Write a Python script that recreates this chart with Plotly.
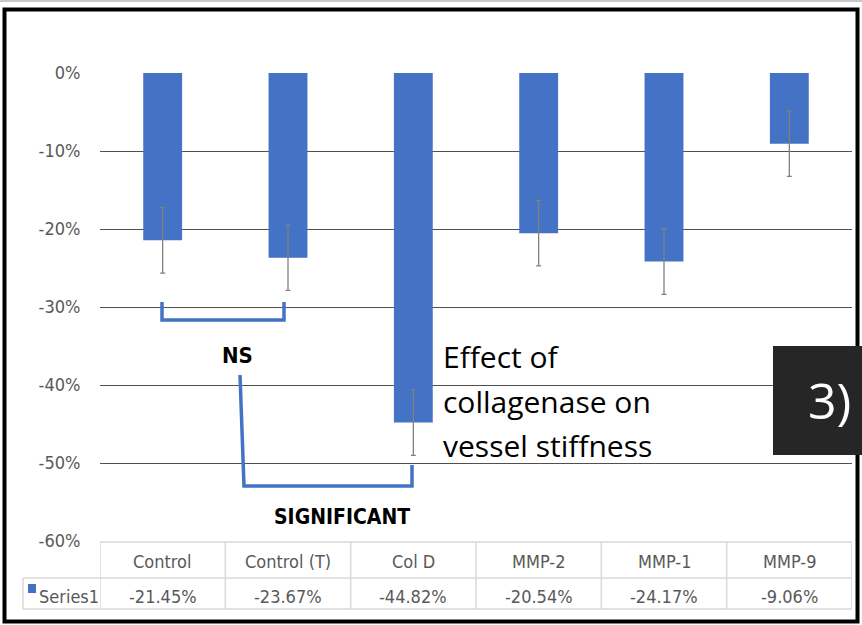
import plotly.graph_objects as go

categories = ["Control", "Control (T)", "Col D", "MMP-2", "MMP-1", "MMP-9"]
values = [-21.45, -23.67, -44.82, -20.54, -24.17, -9.06]
errors = [4.2, 4.2, 4.2, 4.2, 4.2, 4.2]
value_labels = ["-21.45%", "-23.67%", "-44.82%", "-20.54%", "-24.17%", "-9.06%"]
series_name = "Series1"
y_ticks = [0, -10, -20, -30, -40, -50, -60]
y_tick_labels = ["0%", "-10%", "-20%", "-30%", "-40%", "-50%", "-60%"]

W, H = 862, 625
L, R, T, B = 100, 852, 73, 541

def px(x):
    return (x - L) / (R - L)

def py(y):
    return (B - y) / (B - T)

BLUE = "#4472C4"
GRAY_TXT = "#595959"
TBL = "#d9d9d9"
NARROW = "Liberation Sans Narrow, Arial Narrow, DejaVu Sans Condensed, sans-serif"
TEXTF = "Open Sans, Calibri, Lato, sans-serif"

fig = go.Figure()
fig.add_trace(go.Bar(
    x=list(range(len(categories))), y=values, width=0.31,
    marker=dict(color=BLUE, line=dict(width=0)),
    error_y=dict(type="data", array=errors, visible=True,
                 color="#808080", thickness=1.3, width=2.5),
    name=series_name, showlegend=False, hoverinfo="skip",
))

shapes = []
ann = []

def label(x, y, text, size, color, family, xanchor="center", xref="paper"):
    ann.append(dict(x=x, xref=xref, y=py(y), yref="paper", text=text,
                    xanchor=xanchor, yanchor="middle", showarrow=False,
                    font=dict(family=family, size=size, color=color)))

# outer border
shapes.append(dict(type="line", xref="paper", yref="paper",
                   x0=px(0), x1=px(W), y0=py(1), y1=py(1),
                   line=dict(color="#c8c8c8", width=2)))
shapes.append(dict(type="rect", xref="paper", yref="paper",
                   x0=px(4.5), x1=px(857.5), y0=py(9.5), y1=py(621.5),
                   line=dict(color="black", width=4), fillcolor="rgba(0,0,0,0)"))

# table lines
n = len(categories)
shapes.append(dict(type="line", xref="paper", yref="paper",
                   x0=px(L), x1=px(R), y0=py(542), y1=py(542),
                   line=dict(color=TBL, width=1.5)))
for yy in (578, 609):
    shapes.append(dict(type="line", xref="paper", yref="paper",
                       x0=px(23), x1=px(R), y0=py(yy), y1=py(yy),
                       line=dict(color=TBL, width=1.5)))
shapes.append(dict(type="line", xref="paper", yref="paper",
                   x0=px(23), x1=px(23), y0=py(578), y1=py(609),
                   line=dict(color=TBL, width=1.5)))
for i in range(n + 1):
    shapes.append(dict(type="line", xref="x", yref="paper",
                       x0=i - 0.5, x1=i - 0.5, y0=py(542), y1=py(609),
                       line=dict(color=TBL, width=1.5)))

for i, (c, v) in enumerate(zip(categories, value_labels)):
    label(i, 561, c, 18, GRAY_TXT, NARROW, xref="x")
    label(i, 596, v, 18, GRAY_TXT, NARROW, xref="x")

# legend key
shapes.append(dict(type="rect", xref="paper", yref="paper",
                   x0=px(28), x1=px(36), y0=py(584), y1=py(593),
                   fillcolor=BLUE, line=dict(width=0)))
label(px(37), 596, series_name, 18, GRAY_TXT, NARROW, xanchor="left")

# brackets
shapes.append(dict(type="path", xref="paper", yref="paper",
                   path=f"M {px(162)} {py(302)} L {px(162)} {py(320)} L {px(284)} {py(320)} L {px(284)} {py(302)}",
                   line=dict(color=BLUE, width=3.5)))
shapes.append(dict(type="path", xref="paper", yref="paper",
                   path=f"M {px(240)} {py(375)} L {px(244)} {py(486)} L {px(412)} {py(486)} L {px(412)} {py(465)}",
                   line=dict(color=BLUE, width=3.5)))

label(px(237), 355, "<b>NS</b>", 22, "black", NARROW)
label(px(342), 517, "<b>SIGNIFICANT</b>", 21, "black", NARROW)

# description text
for txt, yy in (("Effect of", 356), ("collagenase on", 401), ("vessel stiffness", 445)):
    label(px(441), yy, txt, 30, "black", TEXTF, xanchor="left")

# "3)" box
shapes.append(dict(type="rect", xref="paper", yref="paper",
                   x0=px(773), x1=px(W + 2), y0=py(346), y1=py(455),
                   fillcolor="#262626", line=dict(width=0)))
label(px(829), 400, "3)", 50, "white", TEXTF)

fig.update_layout(
    width=W, height=H,
    margin=dict(l=L, r=W - R, t=T, b=H - B, pad=0),
    paper_bgcolor="white", plot_bgcolor="white",
    shapes=shapes, annotations=ann,
    xaxis=dict(range=[-0.5, n - 0.5], showticklabels=False, showgrid=False,
               zeroline=False, showline=False, ticks=""),
    yaxis=dict(range=[-60, 0], tickvals=y_ticks, ticktext=y_tick_labels,
               showgrid=True, gridcolor="#505050", gridwidth=1.3,
               zeroline=False, showline=False,
               ticks="outside", ticklen=15, tickcolor="rgba(0,0,0,0)",
               tickfont=dict(family=NARROW, size=18, color=GRAY_TXT)),
    bargap=0.69,
)

fig.write_html("out.html", config={"displayModeBar": False},
               post_script="document.body.style.margin='0';document.body.style.overflow='hidden';")
